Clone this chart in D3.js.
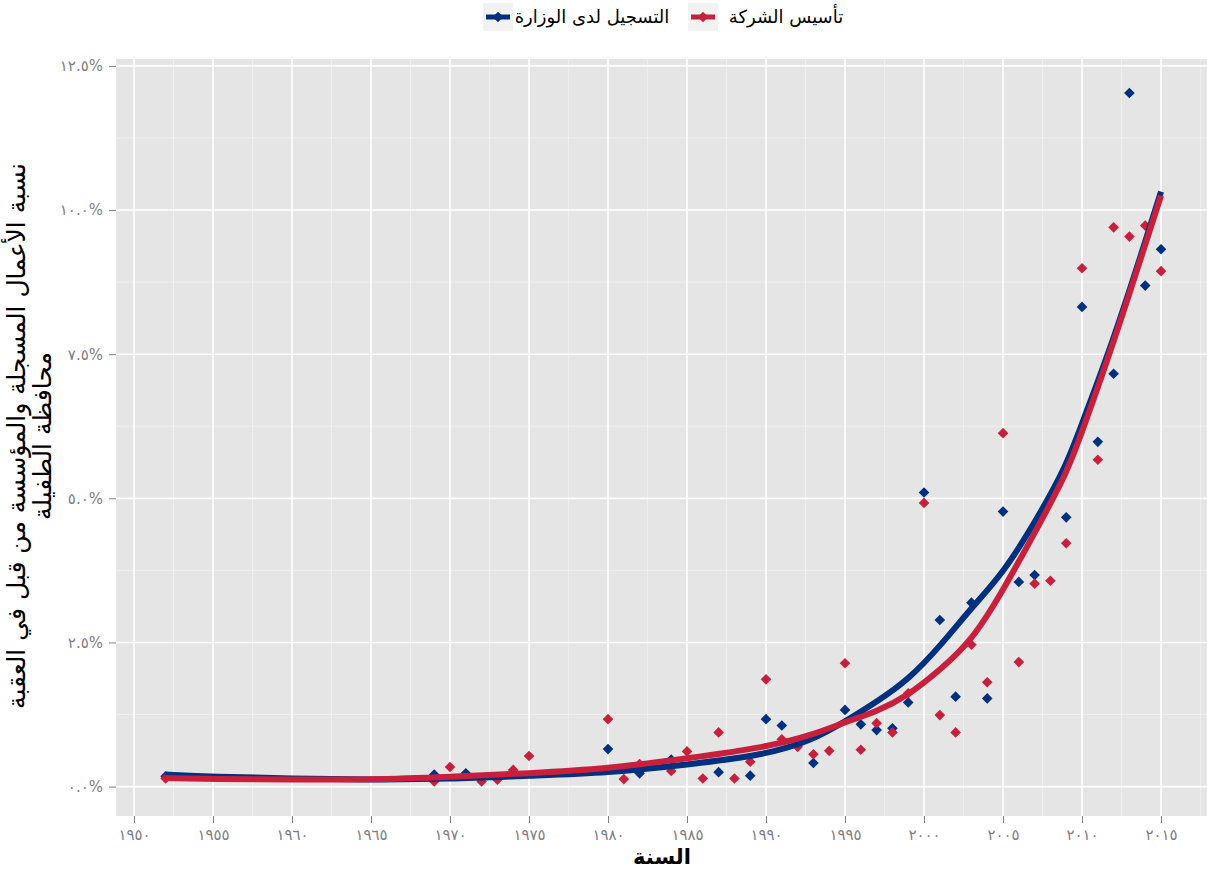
<!DOCTYPE html>
<html>
<head>
<meta charset="utf-8">
<script src="https://cdn.jsdelivr.net/npm/d3@7"></script>
<style>
  body { margin: 0; background: #fff; }
  text { font-family: "DejaVu Sans", sans-serif; }
</style>
</head>
<body>
<script>
var w = 1207,
    h = 870;

var blue = '#00307f',
    red = '#c8203c';

// نقاط: التسجيل لدى الوزارة
var regYears = [1952, 1969, 1971, 1980, 1982, 1984, 1987, 1989, 1990, 1991, 1993, 1995, 1996, 1997, 1998, 1999,
                2000, 2001, 2002, 2003, 2004, 2005, 2006, 2007, 2009, 2010, 2011, 2012, 2013, 2014, 2015];
var regValues = [0.18, 0.21, 0.23, 0.65, 0.23, 0.47, 0.25, 0.19, 1.17, 1.06, 0.41, 1.33, 1.08, 0.98, 1.01, 1.46,
                 5.10, 2.89, 1.56, 3.19, 1.53, 4.77, 3.55, 3.67, 4.67, 8.32, 5.98, 7.16, 12.03, 8.69, 9.32];

// نقاط: تأسيس الشركة
var estYears = [1952, 1969, 1970, 1972, 1973, 1974, 1975, 1980, 1981, 1982, 1984, 1985, 1986, 1987, 1988, 1989,
                1990, 1991, 1992, 1993, 1994, 1995, 1996, 1997, 1998, 1999, 2000, 2001, 2002, 2003, 2004,
                2005, 2006, 2007, 2008, 2009, 2010, 2011, 2012, 2013, 2014, 2015];
var estValues = [0.14, 0.09, 0.34, 0.09, 0.12, 0.29, 0.53, 1.17, 0.13, 0.39, 0.27, 0.61, 0.14, 0.94, 0.14, 0.43,
                 1.86, 0.82, 0.69, 0.56, 0.62, 2.14, 0.64, 1.10, 0.94, 1.62, 4.92, 1.24, 0.94, 2.46, 1.81,
                 6.13, 2.16, 3.52, 3.57, 4.22, 8.99, 5.67, 9.70, 9.54, 9.73, 8.94];

// الخطوط الممهدة (مقروءة من الصورة)
var smoothYears = [1952, 1955, 1960, 1965, 1970, 1975, 1980, 1985, 1990, 1993, 1995, 1997,
                   1999, 2001, 2003, 2005, 2007, 2009, 2010, 2012, 2014, 2015];
var regSmooth = [0.21, 0.17, 0.14, 0.12, 0.13, 0.19, 0.24, 0.38, 0.55, 0.81, 1.13, 1.47,
                 1.85, 2.43, 3.10, 3.70, 4.57, 5.55, 6.30, 7.75, 9.45, 10.32];
var estSmooth = [0.15, 0.13, 0.12, 0.12, 0.17, 0.23, 0.31, 0.49, 0.68, 0.90, 1.12, 1.30,
                 1.58, 2.02, 2.52, 3.40, 4.40, 5.41, 6.15, 7.70, 9.40, 10.25];

var xTicks = [1950, 1955, 1960, 1965, 1970, 1975, 1980, 1985, 1990, 1995, 2000, 2005, 2010, 2015];
var xTickLabels = ['١٩٥٠', '١٩٥٥', '١٩٦٠', '١٩٦٥', '١٩٧٠', '١٩٧٥', '١٩٨٠', '١٩٨٥', '١٩٩٠', '١٩٩٥',
                   '٢٠٠٠', '٢٠٠٥', '٢٠١٠', '٢٠١٥'];
var yTicks = [0, 2.5, 5, 7.5, 10, 12.5];
var yTickLabels = ['٠.٠%', '٢.٥%', '٥.٠%', '٧.٥%', '١٠.٠%', '١٢.٥%'];

var seriesNames = ['التسجيل لدى الوزارة', 'تأسيس الشركة'];

var pLeft = 116, pRight = 1207, pTop = 59, pBottom = 816;

var x = d3.scaleLinear().domain([1948.86, 2017.91]).range([pLeft, pRight]);
var y = d3.scaleLinear().domain([-0.51, 12.62]).range([pBottom, pTop]);

var svg = d3.select('body')
          .append('svg')
          .attr('width', w)
          .attr('height', h);

svg.append('rect')
   .attr('x', pLeft).attr('y', pTop)
   .attr('width', pRight - pLeft).attr('height', pBottom - pTop)
   .attr('fill', '#e5e5e5');

// minor grid
var xMinor = [1947.5].concat(xTicks.map(function(t) { return t + 2.5; }));
var yMinor = yTicks.map(function(t) { return t + 1.25; });

svg.selectAll('.xminor').data(xMinor.filter(function(v) { return x(v) > pLeft && x(v) < pRight; }))
   .enter().append('line')
   .attr('x1', x).attr('x2', x).attr('y1', pTop).attr('y2', pBottom)
   .attr('stroke', '#f2f2f2').attr('stroke-width', 0.8);
svg.selectAll('.yminor').data(yMinor.filter(function(v) { return y(v) > pTop; }))
   .enter().append('line')
   .attr('x1', pLeft).attr('x2', pRight).attr('y1', y).attr('y2', y)
   .attr('stroke', '#f2f2f2').attr('stroke-width', 0.8);

// major grid
svg.selectAll('.xmajor').data(xTicks).enter().append('line')
   .attr('x1', x).attr('x2', x).attr('y1', pTop).attr('y2', pBottom)
   .attr('stroke', '#fff').attr('stroke-width', 1.6);
svg.selectAll('.ymajor').data(yTicks).enter().append('line')
   .attr('x1', pLeft).attr('x2', pRight).attr('y1', y).attr('y2', y)
   .attr('stroke', '#fff').attr('stroke-width', 1.6);

// axes
var xAxis = d3.axisBottom(x).tickValues(xTicks).tickSize(7).tickPadding(6)
              .tickFormat(function(d, i) { return xTickLabels[i]; });
var gx = svg.append('g').attr('transform', 'translate(0,' + pBottom + ')').call(xAxis);
gx.select('.domain').remove();
gx.selectAll('line').attr('stroke', '#7f7f7f');
gx.selectAll('text').attr('fill', '#7f7f7f').style('font-size', '15px');

var yAxis = d3.axisLeft(y).tickValues(yTicks).tickSize(7).tickPadding(6)
              .tickFormat(function(d, i) { return yTickLabels[i]; });
var gy = svg.append('g').attr('transform', 'translate(' + pLeft + ',0)').call(yAxis);
gy.select('.domain').remove();
gy.selectAll('line').attr('stroke', '#7f7f7f');
gy.selectAll('text').attr('fill', '#7f7f7f').style('font-size', '15px');

// points
var diamond = d3.symbol().type(d3.symbolDiamond2).size(72);

svg.append('clipPath').attr('id', 'panel')
   .append('rect').attr('x', pLeft).attr('y', pTop)
   .attr('width', pRight - pLeft).attr('height', pBottom - pTop);

var plot = svg.append('g').attr('clip-path', 'url(#panel)');

plot.selectAll('.reg').data(regYears).enter().append('path')
    .attr('d', diamond)
    .attr('transform', function(d, i) { return 'translate(' + x(d) + ',' + y(regValues[i]) + ')'; })
    .attr('fill', blue);

plot.selectAll('.est').data(estYears).enter().append('path')
    .attr('d', diamond)
    .attr('transform', function(d, i) { return 'translate(' + x(d) + ',' + y(estValues[i]) + ')'; })
    .attr('fill', red);

// smooth lines
var line = d3.line()
             .x(function(d) { return x(d[0]); })
             .y(function(d) { return y(d[1]); })
             .curve(d3.curveBasis);

plot.append('path')
    .attr('d', line(d3.zip(smoothYears, regSmooth)))
    .attr('fill', 'none').attr('stroke', blue).attr('stroke-width', 6);
plot.append('path')
    .attr('d', line(d3.zip(smoothYears, estSmooth)))
    .attr('fill', 'none').attr('stroke', red).attr('stroke-width', 6);

// axis titles
svg.append('text')
   .attr('x', 662).attr('y', 864)
   .attr('text-anchor', 'middle')
   .style('font-size', '21px').style('font-weight', 'bold')
   .text('السنة');

var yTitle = svg.append('g').attr('transform', 'translate(0,436) rotate(-90)');
yTitle.append('text')
   .attr('x', 0).attr('y', 25)
   .attr('text-anchor', 'middle')
   .style('font-size', '25px')
   .text('نسبة الأعمال المسجلة والمؤسسة من قبل في العقبة');
yTitle.append('text')
   .attr('x', 0).attr('y', 51)
   .attr('text-anchor', 'middle')
   .style('font-size', '25px')
   .text('محافظة الطفيلة');

// legend
var keyX = [483, 688],
    labelX = [592, 786],
    keyColors = [blue, red];

var legend = svg.append('g');
keyX.forEach(function(kx, i) {
    legend.append('rect')
          .attr('x', kx).attr('y', 3).attr('width', 30).attr('height', 28)
          .attr('fill', '#f2f2f2');
    legend.append('line')
          .attr('x1', kx + 3).attr('x2', kx + 27).attr('y1', 17).attr('y2', 17)
          .attr('stroke', keyColors[i]).attr('stroke-width', 5);
    legend.append('path')
          .attr('d', diamond)
          .attr('transform', 'translate(' + (kx + 15) + ',17)')
          .attr('fill', keyColors[i]);
    legend.append('text')
          .attr('x', labelX[i]).attr('y', 23)
          .attr('text-anchor', 'middle')
          .style('font-size', '18px')
          .text(seriesNames[i]);
});
</script>
</body>
</html>
